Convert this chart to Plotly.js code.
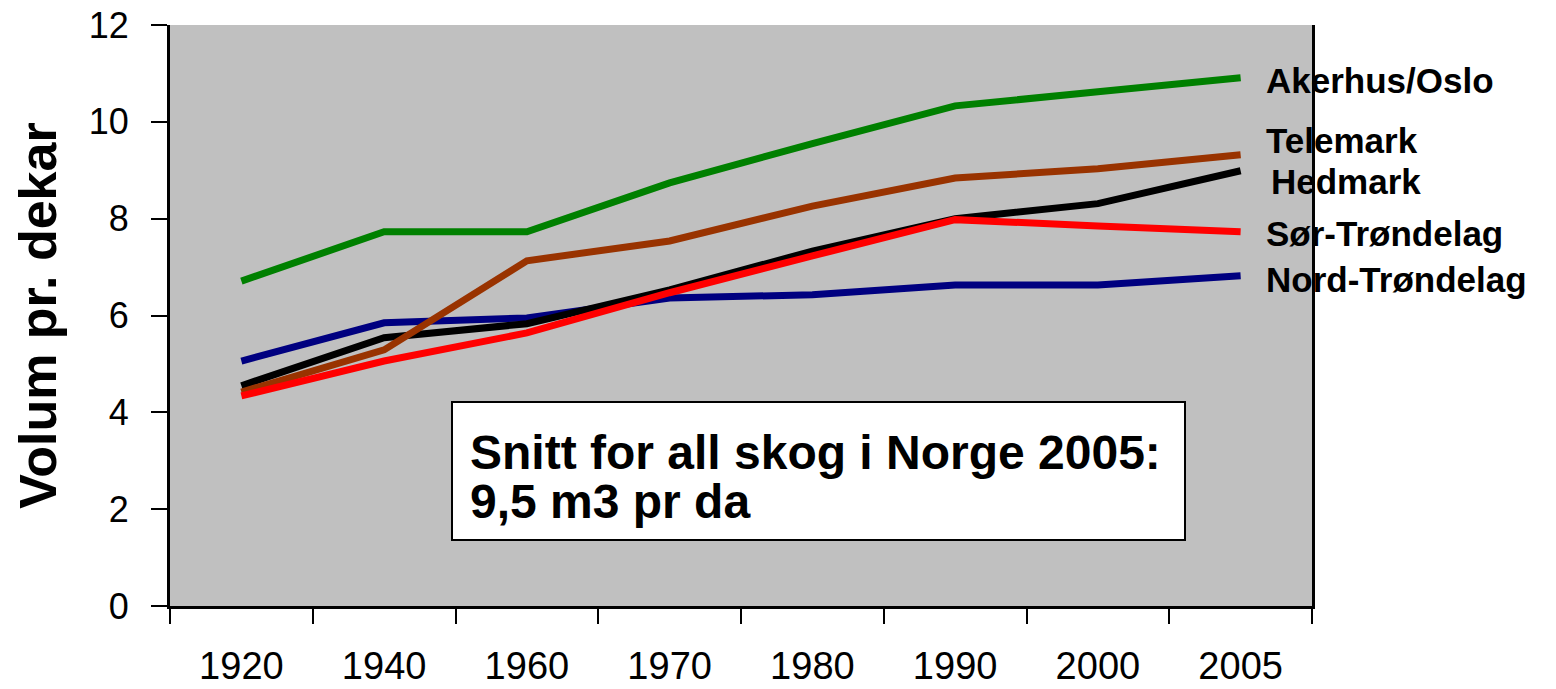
<!DOCTYPE html>
<html>
<head>
<meta charset="utf-8">
<script src="https://cdn.plot.ly/plotly-3.0.1.min.js"></script>
<style>html,body{margin:0;padding:0;background:#fff;}#chart{width:1556px;height:689px;}</style>
</head>
<body>
<div id="chart"></div>
<script>
const years = ["1920","1940","1960","1970","1980","1990","2000","2005"];
const nordTrondelag = [5.06, 5.85, 5.95, 6.36, 6.43, 6.63, 6.63, 6.82];
const hedmark = [4.55, 5.54, 5.83, 6.53, 7.33, 8.00, 8.31, 8.99];
const telemark = [4.42, 5.29, 7.13, 7.54, 8.26, 8.84, 9.03, 9.32];
const akershusOslo = [6.71, 7.73, 7.73, 8.74, 9.55, 10.33, 10.62, 10.91];
const sorTrondelag = [4.34, 5.06, 5.64, 6.47, 7.23, 7.98, 7.85, 7.73];
const yTitle = "Volum pr. dekar";
const boxLine1 = "Snitt for all skog i Norge 2005:";
const boxLine2 = "9,5 m3 pr da";

const font = "Liberation Sans, Arial, Helvetica, sans-serif";
function tr(y, color) {
  return {x: years, y: y, type: "scatter", mode: "lines",
    line: {color: color, width: 7}, hoverinfo: "skip", showlegend: false};
}
const data = [
  tr(nordTrondelag, "#000080"),
  tr(hedmark, "#000000"),
  tr(telemark, "#993300"),
  tr(akershusOslo, "#008000"),
  tr(sorTrondelag, "#ff0000")
];

function lab(text, y, x) {
  return {text: "<b>" + text + "</b>", xref: "paper", yref: "paper", x: x, y: y,
    xanchor: "left", yanchor: "middle", showarrow: false,
    font: {family: font, size: 35, color: "#000"}};
}
function py(pix) { return (606 - pix) / 581; }
function px(pix) { return (pix - 170) / 1142; }

const layout = {
  width: 1556, height: 689,
  margin: {l: 170, r: 244, t: 25, b: 83},
  paper_bgcolor: "#ffffff",
  plot_bgcolor: "#c0c0c0",
  font: {family: font, color: "#000"},
  xaxis: {
    type: "category",
    range: [-0.5, years.length - 0.5],
    tickson: "boundaries",
    ticks: "outside", ticklen: 15, tickwidth: 2, tickcolor: "#000",
    showline: true, linewidth: 3, linecolor: "#000",
    showgrid: false, zeroline: false,
    tickfont: {family: font, size: 38, color: "#000"},
    ticklabelstandoff: 24,
    fixedrange: true
  },
  yaxis: {
    range: [0, 12], tickmode: "linear", tick0: 0, dtick: 2,
    ticks: "outside", ticklen: 16, tickwidth: 2, tickcolor: "#000",
    showline: true, linewidth: 3, linecolor: "#000", mirror: true,
    showgrid: false, zeroline: false,
    tickfont: {family: font, size: 36, color: "#000"},
    ticklabelstandoff: 15,
    title: {text: "<b>" + yTitle + "</b>", font: {family: font, size: 52, color: "#000"}, standoff: 16},
    fixedrange: true
  },
  shapes: [
    {type: "rect", xref: "paper", yref: "paper",
     x0: px(452), x1: px(1185), y0: py(540), y1: py(402),
     fillcolor: "#ffffff", line: {color: "#000", width: 2}, layer: "above"}
  ],
  annotations: [
    lab("Akerhus/Oslo", py(80), px(1264)),
    lab("Telemark", py(140), px(1264)),
    lab("Hedmark", py(181), px(1269)),
    lab("Sør-Trøndelag", py(234), px(1264)),
    lab("Nord-Trøndelag", py(279), px(1264)),
    {text: "<b>" + boxLine1 + "</b>", xref: "paper", yref: "paper", x: px(468), y: py(452),
     xanchor: "left", yanchor: "middle", showarrow: false,
     font: {family: font, size: 48, color: "#000"}},
    {text: "<b>" + boxLine2 + "</b>", xref: "paper", yref: "paper", x: px(468), y: py(501),
     xanchor: "left", yanchor: "middle", showarrow: false,
     font: {family: font, size: 48, color: "#000"}}
  ]
};
Plotly.newPlot("chart", data, layout, {displayModeBar: false, staticPlot: true});
</script>
</body>
</html>
